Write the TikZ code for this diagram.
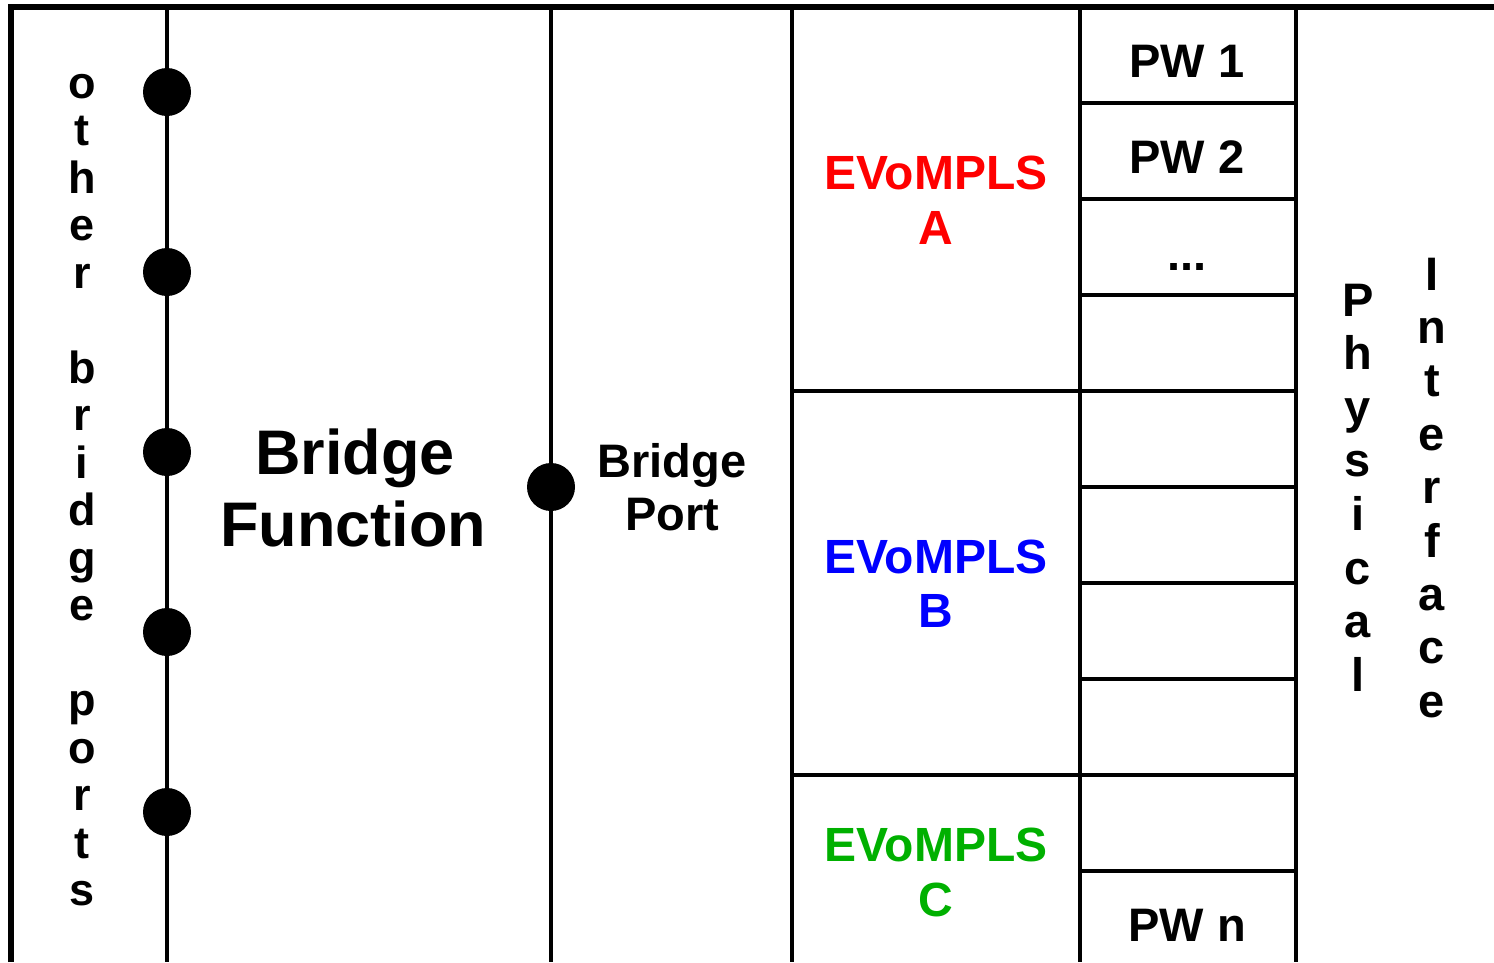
\documentclass[tikz,border=0pt]{standalone}
\usepackage{fontspec}
\setmainfont{Liberation Sans}
\definecolor{evoa}{RGB}{255,0,0}
\definecolor{evob}{RGB}{0,0,255}
\definecolor{evoc}{RGB}{0,176,0}
\begin{document}
\begin{tikzpicture}[x=1pt,y=-1pt,
  frame/.style={line width=6pt, line join=miter},
  rule/.style={line width=3.2pt},
  port/.style={circle, fill=black, inner sep=0pt, minimum size=48pt},
  lbl/.style={font=\bfseries\fontsize{#1}{#1}\selectfont, inner sep=0pt, anchor=base},
]
\useasboundingbox (0,0) rectangle (1494,962);

% outer frame (left and top edges)
\draw[frame] (11,962) -- (11,7) -- (1494,7);

% column separators
\foreach \x in {167,551,792,1080,1296}
  \draw[rule] (\x,7) -- (\x,962);

% EVoMPLS section separators
\draw[rule] (792,391) -- (1080,391);
\draw[rule] (792,775) -- (1080,775);

% pseudowire rows
\foreach \y in {103,199,295,391,487,583,679,775,871}
  \draw[rule] (1080,\y) -- (1296,\y);

% ports on the bridge function and the bridge port
\foreach \y [count=\i] in {92,272,452,632,812}
  \node[port] (obp-dot\i) at (167,\y) {};
\node[port] (bp-dot) at (551,487) {};

% vertical label: other bridge ports
\foreach \c/\k in {o/0,t/1,h/2,e/3,r/4,b/6,r/7,i/8,d/9,g/10,e/11,p/13,o/14,r/15,t/16,s/17}
  \node[lbl=45] (obp\k) at (82,{98+47.5*\k}) {\c};

% bridge function
\node[lbl=63] (bf1) at (355,474) {Bridge};
\node[lbl=63] (bf2) at (353,546) {Function};

% bridge port
\node[lbl=47] (bp1) at (672,477) {Bridge};
\node[lbl=47] (bp2) at (672,530) {Port};

% EVoMPLS instances
\node[lbl=48, text=evoa] (ea1) at (936,189) {EVoMPLS};
\node[lbl=48, text=evoa] (ea2) at (936,244) {A};
\node[lbl=48, text=evob] (eb1) at (936,573) {EVoMPLS};
\node[lbl=48, text=evob] (eb2) at (936,627) {B};
\node[lbl=48, text=evoc] (ec1) at (936,861) {EVoMPLS};
\node[lbl=48, text=evoc] (ec2) at (936,916) {C};

% pseudowires
\node[lbl=47] (pw1) at (1187,77) {PW 1};
\node[lbl=47] (pw2) at (1187,173) {PW 2};
\node[lbl=47] (pwd) at (1187,270) {...};
\node[lbl=47] (pwn) at (1187,941) {PW n};

% vertical label: physical interface
\foreach \c [count=\k from 0] in {P,h,y,s,i,c,a,l}
  \node[lbl=47] (phy\k) at (1358,{316+53.6*\k}) {\c};
\foreach \c [count=\k from 0] in {I,n,t,e,r,f,a,c,e}
  \node[lbl=47] (ifc\k) at (1432,{290+53.4*\k}) {\c};
\end{tikzpicture}
\end{document}
